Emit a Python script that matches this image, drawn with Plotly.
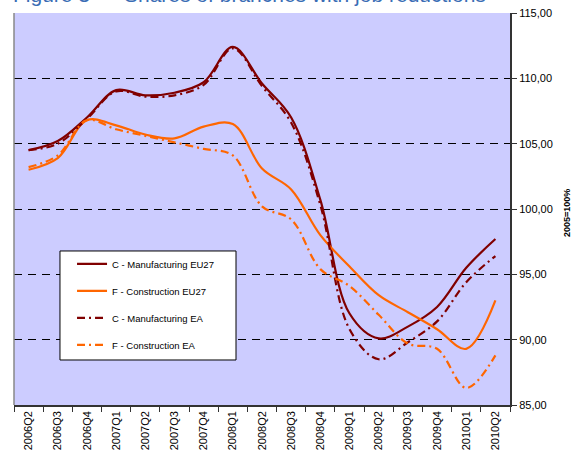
import plotly.graph_objects as go

categories = ["2006Q2", "2006Q3", "2006Q4", "2007Q1", "2007Q2", "2007Q3", "2007Q4",
              "2008Q1", "2008Q2", "2008Q3", "2008Q4", "2009Q1", "2009Q2", "2009Q3",
              "2009Q4", "2010Q1", "2010Q2"]

mfg_eu27 = [104.5, 105.2, 107.0, 109.1, 108.7, 108.9, 109.7, 112.4, 109.6, 107.0,
            100.7, 92.0, 90.1, 91.0, 92.5, 95.5, 97.7]
con_eu27 = [103.0, 103.9, 106.8, 106.4, 105.7, 105.4, 106.3, 106.5, 103.1, 101.5,
            98.0, 95.6, 93.4, 92.1, 90.8, 89.3, 93.0]
mfg_ea = [104.5, 105.0, 106.9, 109.0, 108.6, 108.7, 109.5, 112.3, 109.4, 106.6,
          100.3, 90.8, 88.5, 89.8, 91.4, 94.4, 96.4]
con_ea = [103.2, 104.1, 106.8, 106.1, 105.6, 105.1, 104.6, 104.1, 100.2, 99.2,
          95.4, 94.1, 91.9, 89.7, 89.3, 86.3, 88.8]

series = [
    ("C - Manufacturing EU27", mfg_eu27, "#800000", "solid"),
    ("F - Construction EU27", con_eu27, "#FF6600", "solid"),
    ("C - Manufacturing EA", mfg_ea, "#800000", "8px,4px,2px,4px"),
    ("F - Construction EA", con_ea, "#FF6600", "8px,4px,2px,4px"),
]

fig = go.Figure()
for i, (name, vals, color, dash) in enumerate(series):
    fig.add_trace(go.Scatter(
        x=categories, y=vals, name=name, mode="lines",
        line=dict(color=color, width=2.2, dash=dash, shape="spline", smoothing=1.0),
        legendgroup=f"g{i}",
    ))

fig.update_layout(
    width=574, height=460,
    margin=dict(l=14, r=64, t=13, b=55, autoexpand=False),
    paper_bgcolor="white",
    plot_bgcolor="#CCCCFF",
    separators=",.",
    font=dict(family="Liberation Sans, Arial, sans-serif", size=11, color="#000000"),
    showlegend=True,
    legend=dict(
        x=0.117, y=0.397, xanchor="left", yanchor="top",
        bgcolor="rgba(0,0,0,0)", borderwidth=0,
        font=dict(size=9.5, color="#000000"),
        tracegroupgap=8,
    ),
    xaxis=dict(
        type="category",
        tickangle=-90,
        tickson="boundaries",
        ticks="outside", ticklen=5, tickcolor="#333333",
        showline=True, linecolor="#333333", linewidth=1.5,
        showgrid=False,
        tickfont=dict(size=11),
        range=[-0.5, 16.5],
        automargin=False,
    ),
    yaxis=dict(
        side="right",
        range=[85, 115],
        dtick=5,
        tickformat=".2f",
        ticks="outside", ticklen=5, tickcolor="#333333",
        showline=True, linecolor="#333333", linewidth=2,
        showgrid=True, gridcolor="#000000", griddash="8px,6px", gridwidth=1,
        zeroline=False,
        tickfont=dict(size=11),
        automargin=False,
    ),
    shapes=[
        dict(type="line", xref="paper", yref="paper", x0=0, x1=0, y0=0, y1=1,
             line=dict(color="#888888", width=1.5)),
        dict(type="rect", xref="paper", yref="paper", x0=0.0927, x1=0.4476,
             y0=0.1148, y1=0.3929, layer="above", fillcolor="white",
             line=dict(color="#000000", width=1)),
    ],
    annotations=[
        dict(text="<b>2005=100%</b>", xref="paper", yref="paper", x=1.115, y=0.49,
             xanchor="center", yanchor="middle", textangle=-90, showarrow=False,
             font=dict(size=9, color="#000000")),
        dict(text="Figure 3", xref="paper", yref="paper", x=-0.006, y=1.012,
             xanchor="left", yanchor="bottom", showarrow=False,
             font=dict(size=21, color="#3A6DB5")),
        dict(text="Shares of branches with job reductions", xref="paper", yref="paper",
             x=0.218, y=1.012, xanchor="left", yanchor="bottom", showarrow=False,
             font=dict(size=21, color="#3A6DB5")),
    ],
)

fig.write_html("out.html", config={"displayModeBar": False},
               post_script="document.body.style.margin='0';")
